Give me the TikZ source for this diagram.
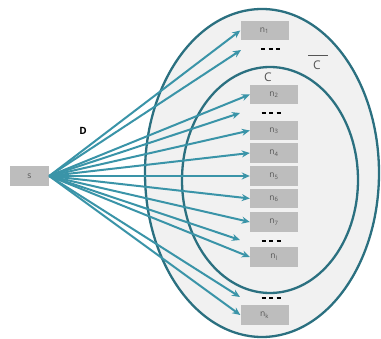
\documentclass[tikz,border=0pt]{standalone}
\usepackage{fontspec}
\setmainfont{Open Sans}
\usetikzlibrary{arrows.meta}
\definecolor{ell}{HTML}{2B7080}
\definecolor{arr}{HTML}{3A94A8}
\definecolor{box}{HTML}{BDBDBD}
\definecolor{fillg}{HTML}{F1F1F1}
\definecolor{txt}{HTML}{555555}
\tikzset{
  nbox/.style={fill=box, minimum width=48pt, minimum height=19.5pt, inner sep=0pt, font=\fontsize{8.5}{9}\selectfont, text=txt},
  dotsn/.style={inner sep=0pt, font=\fontsize{9}{9}\selectfont\bfseries},
  arrw/.style={draw=arr, line width=2pt, -{Stealth[length=8pt,width=7pt]}},
  ellw/.style={draw=ell, line width=2.3pt, fill=fillg}
}
\newcommand{\dotrow}{\rule{4pt}{2.6pt}\hspace{3.5pt}\rule{4pt}{2.6pt}\hspace{3.5pt}\rule{4pt}{2.6pt}}
\begin{document}
\begin{tikzpicture}[x=1pt,y=-1pt]
\useasboundingbox (0,0) rectangle (381,339);
\draw[ellw] (262,173) ellipse [x radius=117, y radius=164];
\draw[ellw] (270,180) ellipse [x radius=88, y radius=113];
\node[nbox, minimum width=39pt] (s) at (29.5,176) {s};
\node[nbox] (n1) at (264.5,30.5) {n\textsubscript{1}};
\node[dotsn] (d1) at (270.5,49) {\dotrow};
\node[nbox] (n2) at (274,94.5) {n\textsubscript{2}};
\node[dotsn] (d2) at (271,113) {\dotrow};
\node[nbox] (n3) at (274,130.5) {n\textsubscript{3}};
\node[nbox] (n4) at (274,153) {n\textsubscript{4}};
\node[nbox] (n5) at (274,176) {n\textsubscript{5}};
\node[nbox] (n6) at (274,198.5) {n\textsubscript{6}};
\node[nbox] (n7) at (274,222) {n\textsubscript{7}};
\node[dotsn] (d3) at (271,241) {\dotrow};
\node[nbox] (nl) at (274,257) {n\textsubscript{l}};
\node[dotsn] (d4) at (271,298) {\dotrow};
\node[nbox] (nk) at (264.5,315) {n\textsubscript{k}};
\node[font=\fontsize{12}{12}\selectfont, text=txt] (cl) at (268,77) {C};
\node[font=\fontsize{12}{12}\selectfont, text=txt] (cb) at (317,65) {C};
\draw[txt, line width=0.8pt] (308,55) -- (328,55);
\node[font=\fontsize{10}{10}\selectfont\bfseries] (D) at (83,131) {D};
\coordinate (t1) at (241,50);
\coordinate (t2) at (240,113);
\coordinate (t3) at (240,240);
\coordinate (t4) at (240,297);
\draw[arrw] (s.east) -- (n1.west);
\draw[arrw] (s.east) -- (t1);
\draw[arrw] (s.east) -- (n2.west);
\draw[arrw] (s.east) -- (t2);
\draw[arrw] (s.east) -- (n3.west);
\draw[arrw] (s.east) -- (n4.west);
\draw[arrw] (s.east) -- (n5.west);
\draw[arrw] (s.east) -- (n6.west);
\draw[arrw] (s.east) -- (n7.west);
\draw[arrw] (s.east) -- (t3);
\draw[arrw] (s.east) -- (nl.west);
\draw[arrw] (s.east) -- (t4);
\draw[arrw] (s.east) -- (nk.west);
\end{tikzpicture}
\end{document}
